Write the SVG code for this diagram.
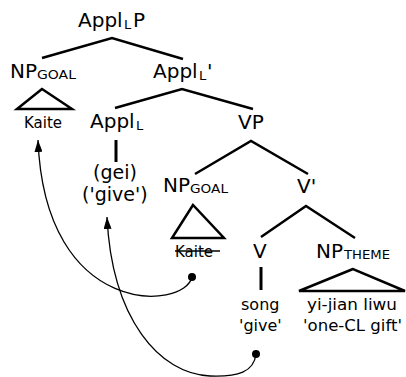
<svg xmlns="http://www.w3.org/2000/svg" width="406" height="377" viewBox="0 0 406 377">
<defs>
<style>
.t{font-family:"DejaVu Sans","Liberation Sans",sans-serif;fill:#000}
.big{font-size:20px}
.sub{font-size:13px}
.sc{font-size:12px}
.lex{font-size:15px}
.lex2{font-size:16px}
.edge{stroke:#000;stroke-width:2.5;fill:none;stroke-linecap:butt}
.stem{stroke:#000;stroke-width:3;fill:none}
.tri{stroke:#000;stroke-width:2.5;fill:none;stroke-linejoin:miter}
.mv{stroke:#000;stroke-width:1.3;fill:none}
</style>
<marker id="ah" viewBox="0 0 12 8" refX="12" refY="4" markerWidth="12" markerHeight="8" markerUnits="userSpaceOnUse" orient="auto">
<path d="M0,0 L12,4 L0,8 Z" fill="#000"/>
</marker>
</defs>
<rect width="406" height="377" fill="#fff"/>

<g id="connectors">
<path class="edge" d="M42,58 L112,38 L183,59"/>
<path class="edge" d="M115,108 L182,89 L253,109"/>
<path class="edge" d="M195,174 L251,141 L308,174"/>
<path class="edge" d="M261,237 L306,206 L355,238"/>
<line class="stem" x1="116" y1="140" x2="116" y2="162"/>
<line class="stem" x1="261" y1="267" x2="261" y2="290"/>
<path class="mv" d="M192,277 C185,310 45,320 38,140" marker-end="url(#ah)"/>
<path class="mv" d="M256,354 C254,372 238,377 210,376 C160,374 112,320 107,217" marker-end="url(#ah)"/>
<circle cx="192" cy="277" r="4" fill="#000"/>
<circle cx="256" cy="354" r="4" fill="#000"/>
</g>

<g id="applLP">
<text class="t big" x="78" y="27">Appl</text>
<text class="t sub" x="124" y="29">L</text>
<text class="t big" x="133" y="27">P</text>
</g>

<g id="np-goal-1">
<text class="t big" x="10" y="78">NP</text>
<text class="t sc" x="37" y="79" textLength="39" lengthAdjust="spacingAndGlyphs">GOAL</text>
<polygon class="tri" points="42,89 17,109 72,109"/>
<text class="t lex" x="24" y="128">Kaite</text>
</g>

<g id="applL-bar">
<text class="t big" x="153" y="78">Appl</text>
<text class="t sub" x="199" y="80">L</text>
<text class="t big" x="207" y="78">'</text>
</g>

<g id="applL">
<text class="t big" x="90" y="128">Appl</text>
<text class="t sub" x="136" y="130">L</text>
<text class="t" style="font-size:19px" x="93" y="179">(gei)</text>
<text class="t" style="font-size:19px" x="82" y="201">('give')</text>
</g>

<g id="vp">
<text class="t big" x="238" y="129">VP</text>
</g>

<g id="np-goal-2">
<text class="t big" x="163" y="192">NP</text>
<text class="t sc" x="190" y="193" textLength="38" lengthAdjust="spacingAndGlyphs">GOAL</text>
<polygon class="tri" points="193,205 172,238 224,238"/>
<text class="t lex" x="175" y="257">Kaite</text>
<line x1="175" y1="251" x2="220" y2="251" stroke="#000" stroke-width="1.3"/>
</g>

<g id="v-bar">
<text class="t big" x="297" y="193">V'</text>
</g>

<g id="v">
<text class="t big" x="253" y="258">V</text>
<text class="t lex2" x="241" y="310">song</text>
<text class="t lex2" x="239" y="331">'give'</text>
</g>

<g id="np-theme">
<text class="t big" x="316" y="258">NP</text>
<text class="t sc" x="344" y="259" textLength="46" lengthAdjust="spacingAndGlyphs">THEME</text>
<polygon class="tri" points="353,269 299,291 405,291"/>
<text class="t lex2" x="307" y="310" textLength="90" lengthAdjust="spacingAndGlyphs">yi-jian liwu</text>
<text class="t lex2" x="303" y="331" textLength="99" lengthAdjust="spacingAndGlyphs">'one-CL gift'</text>
</g>
</svg>
